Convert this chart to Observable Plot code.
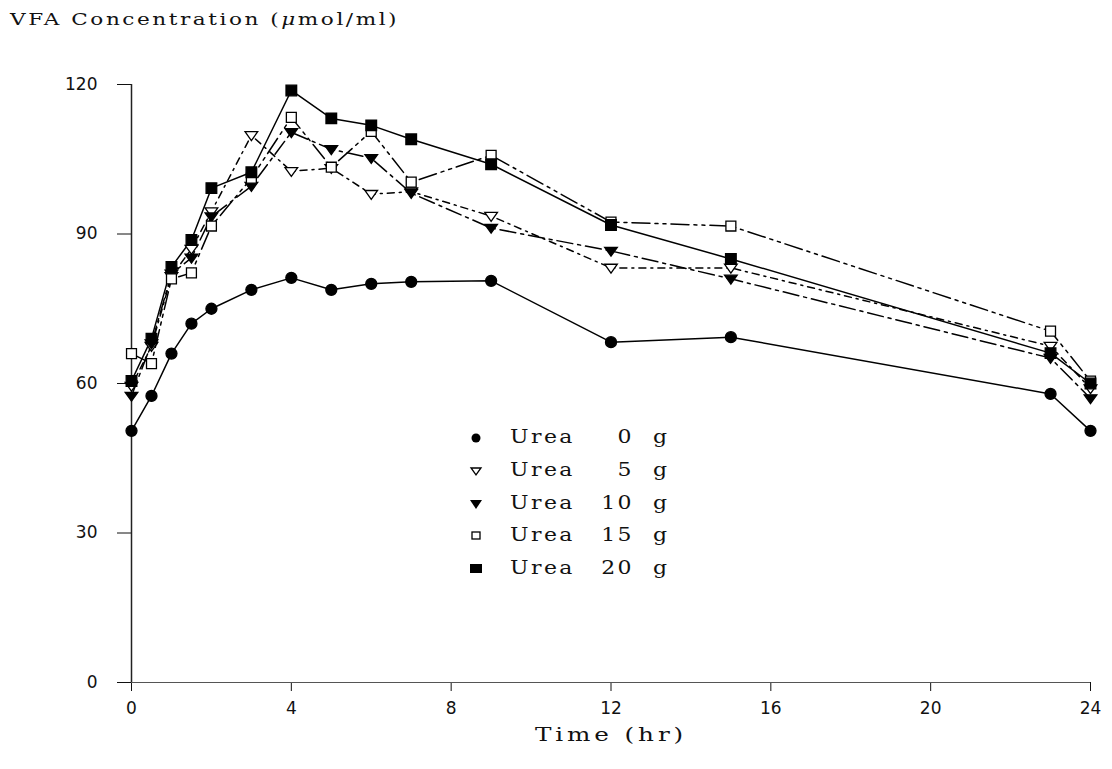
<!DOCTYPE html>
<html>
<head>
<meta charset="utf-8">
<script src="https://cdn.jsdelivr.net/npm/d3@7"></script>
<script src="https://cdn.jsdelivr.net/npm/@observablehq/plot@0.6"></script>
<style>
  html, body { margin: 0; padding: 0; background: #fff; }
  #wrap { position: relative; width: 1112px; height: 769px; }
  #title { position: absolute; left: 10px; top: 9px; font-family: "DejaVu Serif", serif; font-size: 17px; letter-spacing: 2px; color: #111; white-space: pre; transform: scaleX(1.27); transform-origin: left top; }
  #legend { position: absolute; left: 462px; top: 422px; width: 240px; font-family: "DejaVu Serif", serif; font-size: 18px; letter-spacing: 2px; color: #111; }
  #legend .row { position: relative; height: 32.8px; white-space: pre; }
  #legend svg { position: absolute; left: 0; top: 6px; width: 28px; height: 20px; }
  #legend .lbl { position: absolute; left: 48px; top: 4px; transform: scaleX(1.22); transform-origin: left center; }
  #legend .num { position: absolute; left: 112px; width: 60px; top: 4px; text-align: right; transform: scaleX(1.22); transform-origin: right center; }
  #legend .unit { position: absolute; left: 191px; top: 4px; transform: scaleX(1.22); transform-origin: left center; }
</style>
</head>
<body>
<div id="wrap">
  <div id="chart"></div>
  <div id="title">VFA Concentration (<i>μ</i>mol/ml)</div>
  <div id="legend"></div>
</div>
<script>
const times  = [0, 0.5, 1, 1.5, 2, 3, 4, 5, 6, 7, 9, 12, 15, 23, 24];
const urea0  = [50.5, 57.5, 66, 72, 75, 78.8, 81.2, 78.8, 80, 80.4, 80.6, 68.3, 69.3, 57.9, 50.5];
const urea5  = [59.5, 67.5, 81.5, 87, 94.5, 109.8, 102.6, 103.2, 98, 98.5, 93.6, 83.2, 83.2, 67.5, 59];
const urea10 = [57.5, 68, 82, 85.2, 93.5, 99.6, 110.4, 107, 105.2, 98.2, 91.2, 86.6, 81, 65.1, 57];
const urea15 = [66, 64, 81, 82.2, 91.6, 101.2, 113.4, 103.4, 110.6, 100.4, 105.8, 92.4, 91.6, 70.5, 60.5];
const urea20 = [60.5, 69, 83.4, 88.8, 99.2, 102.4, 118.8, 113.2, 111.8, 109, 104, 91.8, 85, 66.1, 60];
const seriesNames = ["Urea  0 g", "Urea  5 g", "Urea 10 g", "Urea 15 g", "Urea 20 g"];
const doses = ["0", "5", "10", "15", "20"];
const xTicks = [0, 4, 8, 12, 16, 20, 24];
const yTicks = [0, 30, 60, 90, 120];

const values = [urea0, urea5, urea10, urea15, urea20];

const triDown = {
  draw(ctx, size) {
    const r = Math.sqrt(size / Math.PI);
    const w = r * 1.15, h = r * 0.95;
    ctx.moveTo(-w, -h * 0.7);
    ctx.lineTo(w, -h * 0.7);
    ctx.lineTo(0, h * 1.0);
    ctx.closePath();
  }
};

const styles = [
  {dash: null,            symbol: "circle", fill: "#000", r: 5.5},
  {dash: "7,5,2,5",       symbol: triDown,  fill: "#fff", r: 5.5},
  {dash: "16,5,3,5",      symbol: triDown,  fill: "#000", r: 5.5},
  {dash: "18,5,3,5,3,5",  symbol: "square", fill: "#fff", r: 5.6},
  {dash: null,            symbol: "square", fill: "#000", r: 6}
];

const tables = values.map((vals, i) => times.map((t, j) => ({t, v: vals[j], s: seriesNames[i]})));

const marks = [
  Plot.ruleY([0], {stroke: "#555", strokeWidth: 1}),
  Plot.ruleX([0], {y1: 0, y2: 120, stroke: "#222", strokeWidth: 1.5})
];
tables.forEach((tbl, i) => {
  marks.push(Plot.line(tbl, {x: "t", y: "v", stroke: "#000", strokeWidth: 1.5,
    strokeDasharray: styles[i].dash || undefined}));
});
tables.forEach((tbl, i) => {
  marks.push(Plot.dot(tbl, {x: "t", y: "v", symbol: () => styles[i].symbol, r: styles[i].r,
    fill: styles[i].fill, stroke: "#000", strokeWidth: 1.3}));
});

const chart = Plot.plot({
  width: 1112,
  height: 769,
  marginLeft: 131,
  marginRight: 22,
  marginTop: 84,
  marginBottom: 87,
  style: {fontFamily: "DejaVu Sans, sans-serif", fontSize: "16px", color: "#111", background: "#fff"},
  symbol: {type: "identity"},
  x: {domain: [0, 24], label: null},
  y: {domain: [0, 120], label: null},
  marks: [
    Plot.axisX({ticks: xTicks, tickSize: 9, tickPadding: 10, label: "Time (hr)", labelAnchor: "center", labelArrow: "none", labelOffset: 58, fontSize: 17, letterSpacing: 3}),
    Plot.axisY({ticks: yTicks, tickSize: 14, tickPadding: 20, label: null, fontSize: 17, letterSpacing: 3}),
    ...marks
  ]
});
// style the axis label as a wide serif
chart.querySelectorAll("g[aria-label='x-axis label'] text").forEach(t => {
  t.setAttribute("font-family", "DejaVu Serif, serif");
  t.setAttribute("letter-spacing", "3");
  t.setAttribute("font-size", "19");
  const tr = t.getAttribute("transform") || "";
  t.setAttribute("transform", tr + " scale(1.3,1)");
});
document.getElementById("chart").appendChild(chart);

// legend
const legend = document.getElementById("legend");
const legendIcons = [
  '<circle cx="14" cy="10" r="4.5" fill="#000"/>',
  '<path d="M9,7 L19,7 L14,14 Z" fill="#fff" stroke="#000" stroke-width="1.3"/>',
  '<path d="M8,6 L20,6 L14,15 Z" fill="#000"/>',
  '<rect x="10" y="6" width="8" height="7" fill="#fff" stroke="#000" stroke-width="1.3"/>',
  '<rect x="8" y="5" width="12" height="9" fill="#000"/>'
];
seriesNames.forEach((name, i) => {
  const row = document.createElement("div");
  row.className = "row";
  row.innerHTML = `<svg viewBox="0 0 28 20">${legendIcons[i]}</svg><span class="lbl">Urea</span><span class="num">${doses[i]}</span><span class="unit">g</span>`;
  legend.appendChild(row);
});
</script>
</body>
</html>
